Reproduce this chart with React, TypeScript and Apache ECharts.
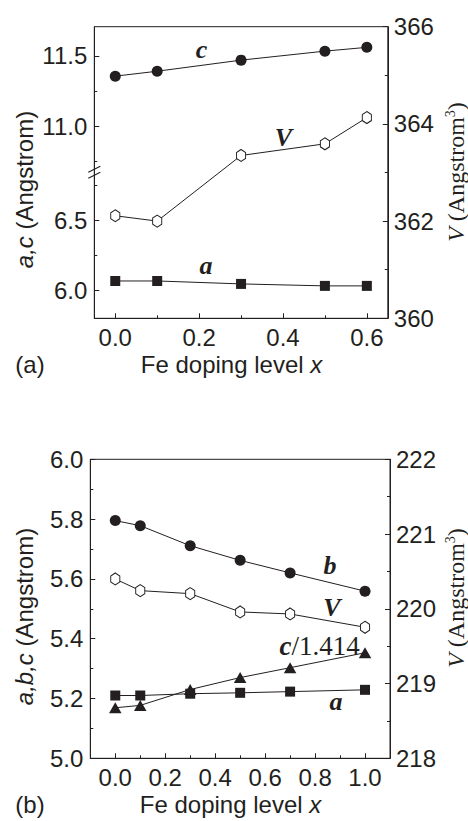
import React, { useEffect, useRef } from 'react';
import * as echarts from 'echarts';

// ---------- data: panel (a) ----------
const xA = [0, 0.1, 0.3, 0.5, 0.6];
const cA = [11.355, 11.39, 11.469, 11.533, 11.56];
const aA = [6.066, 6.066, 6.045, 6.031, 6.031];
const vA = [362.11, 362.0, 363.35, 363.59, 364.13];

// ---------- data: panel (b) ----------
const xB = [0, 0.1, 0.3, 0.5, 0.7, 1.0];
const bB = [5.795, 5.778, 5.711, 5.662, 5.62, 5.559];
const vB = [220.399, 220.243, 220.203, 219.958, 219.931, 219.753];
const cB = [5.169, 5.177, 5.23, 5.27, 5.303, 5.353];
const aB = [5.21, 5.21, 5.216, 5.219, 5.223, 5.229];

// ---------- ticks ----------
const xTicksA = [0, 0.2, 0.4, 0.6];
const xMinorA = [0.1, 0.3, 0.5];
const yUpperTicksA = [11.0, 11.5];
const yUpperMinorA = [10.75, 11.25];
const yLowerTicksA = [6.0, 6.5];
const yLowerMinorA = [6.25, 6.75];
const xTicksB = [0, 0.2, 0.4, 0.6, 0.8, 1.0];
const xMinorB = [0.1, 0.3, 0.5, 0.7, 0.9];

const INK = '#231f20';
const SANS = '"Liberation Sans", Arial, Helvetica, sans-serif';
const SERIF = '"Liberation Serif", "Times New Roman", serif';
const HEX = 'path://M0,-10L8.66,-5L8.66,5L0,10L-8.66,5L-8.66,-5Z';

const zip = (xs: number[], ys: number[]) => xs.map((x, i) => [x, ys[i]]);
const f1 = (v: number) => v.toFixed(1);

const labelStyle = { color: INK, fontSize: 24, fontFamily: SANS };

function mainAxis(extra: any, ticks: number[] | null, fmt: (v: number) => string, margin: number) {
  const o: any = {
    type: 'value',
    splitLine: { show: false },
    axisLine: { show: true, onZero: false, lineStyle: { color: INK, width: 1 } },
    axisTick: { show: true, inside: true, length: 5, lineStyle: { color: INK, width: 1 } },
    axisLabel: { show: true, ...labelStyle, margin, formatter: fmt },
    ...extra,
  };
  if (ticks) {
    o.axisTick.customValues = ticks;
    o.axisLabel.customValues = ticks;
  }
  return o;
}

function minorAxis(extra: any, ticks: number[]) {
  return {
    type: 'value',
    splitLine: { show: false },
    axisLine: { show: false, onZero: false },
    axisTick: { show: true, inside: true, length: 3, customValues: ticks, lineStyle: { color: INK, width: 1 } },
    axisLabel: { show: false },
    ...extra,
  };
}

const lineSeries = (name: string, xi: number, yi: number, data: number[][], symbol: string, size: any, hollow = false) => ({
  name,
  type: 'line',
  xAxisIndex: xi,
  yAxisIndex: yi,
  data,
  symbol,
  symbolSize: size,
  symbolKeepAspect: true,
  showAllSymbol: true,
  silent: true,
  lineStyle: { color: INK, width: 1 },
  itemStyle: hollow ? { color: '#ffffff', borderColor: INK, borderWidth: 1, opacity: 1 } : { color: INK, borderWidth: 0 },
  emphasis: { disabled: true },
  z: 3,
});

// geometry
const AL = 94.3, AR = 387.8, AT = 26.7, AB = 318.3, ABRK = 172.5;
const BL = 90.3, BR = 390, BT = 459.3, BB = 758.3;

export default function App() {
  const ref = useRef<HTMLDivElement>(null);
  useEffect(() => {
    if (!ref.current) return;
    const chart = echarts.init(ref.current, undefined, { renderer: 'svg' });
    const txt = (x: number, y: number, text: string, style: any, rotation = 0) => ({
      type: 'text',
      x,
      y,
      rotation,
      silent: true,
      z: 10,
      style: { text, fill: INK, align: 'center', verticalAlign: 'middle', ...style },
    });
    const lbl = (x: number, y: number, t: string) =>
      txt(x, y, t, { fontFamily: SERIF, fontSize: 26, fontStyle: 'italic', fontWeight: 'bold' });
    const sansRich = {
      i: { fontFamily: SANS, fontSize: 24, fontStyle: 'italic', fill: INK },
      n: { fontFamily: SANS, fontSize: 24, fill: INK },
    };
    const serifRich = {
      i: { fontFamily: SERIF, fontSize: 24, fontStyle: 'italic', fill: INK },
      n: { fontFamily: SERIF, fontSize: 24, fill: INK },
      s: { fontFamily: SERIF, fontSize: 14, fill: INK, verticalAlign: 'top', padding: [0, 0, 12, 0] },
    };

    chart.setOption({
      animation: false,
      backgroundColor: '#ffffff',
      grid: [
        { left: AL, top: AT, width: AR - AL, height: ABRK - AT, outerBoundsMode: 'none' },
        { left: AL, top: ABRK, width: AR - AL, height: AB - ABRK, outerBoundsMode: 'none' },
        { left: AL, top: AT, width: AR - AL, height: AB - AT, show: true, borderColor: INK, borderWidth: 1, backgroundColor: 'transparent', outerBoundsMode: 'none' },
        { left: BL, top: BT, width: BR - BL, height: BB - BT, show: true, borderColor: INK, borderWidth: 1, backgroundColor: 'transparent', outerBoundsMode: 'none' },
      ],
      xAxis: [
        { type: 'value', gridIndex: 0, min: -0.05, max: 0.65, show: false },
        { type: 'value', gridIndex: 1, min: -0.05, max: 0.65, show: false },
        mainAxis({ gridIndex: 2, min: -0.05, max: 0.65, position: 'bottom' }, xTicksA, f1, 7),
        minorAxis({ gridIndex: 2, min: -0.05, max: 0.65, position: 'bottom' }, xMinorA),
        mainAxis({ gridIndex: 3, min: -0.1, max: 1.1, position: 'bottom' }, xTicksB, f1, 7),
        minorAxis({ gridIndex: 3, min: -0.1, max: 1.1, position: 'bottom' }, xMinorB),
      ],
      yAxis: [
        mainAxis({ gridIndex: 0, min: 10.669, max: 11.707, position: 'left' }, yUpperTicksA, f1, 7),
        minorAxis({ gridIndex: 0, min: 10.669, max: 11.707, position: 'left' }, yUpperMinorA),
        mainAxis({ gridIndex: 1, min: 5.8, max: 6.839, position: 'left' }, yLowerTicksA, f1, 7),
        minorAxis({ gridIndex: 1, min: 5.8, max: 6.839, position: 'left' }, yLowerMinorA),
        mainAxis(
          { gridIndex: 2, min: 360, max: 366, interval: 2, position: 'right', minorTick: { show: true, splitNumber: 2, length: 3, lineStyle: { color: INK, width: 1 } } },
          null,
          (v: number) => String(Math.round(v)),
          6,
        ),
        mainAxis(
          { gridIndex: 3, min: 5.0, max: 6.0, interval: 0.2, position: 'left', minorTick: { show: true, splitNumber: 2, length: 3, lineStyle: { color: INK, width: 1 } } },
          null,
          f1,
          7,
        ),
        mainAxis(
          { gridIndex: 3, min: 218, max: 222, interval: 1, position: 'right', minorTick: { show: true, splitNumber: 2, length: 3, lineStyle: { color: INK, width: 1 } } },
          null,
          (v: number) => String(Math.round(v)),
          6,
        ),
      ],
      series: [
        lineSeries('c', 0, 0, zip(xA, cA), 'circle', 11),
        lineSeries('a', 1, 2, zip(xA, aA), 'rect', 10),
        lineSeries('V', 2, 4, zip(xA, vA), HEX, [10.5, 12], true),
        lineSeries('b', 4, 5, zip(xB, bB), 'circle', 11),
        lineSeries('V', 4, 6, zip(xB, vB), HEX, [10.5, 12], true),
        lineSeries('c/1.414', 4, 5, zip(xB, cB), 'triangle', [12.5, 11]),
        lineSeries('a', 4, 5, zip(xB, aB), 'rect', 10),
      ],
      graphic: [
        // axis break marks
        { type: 'line', silent: true, z: 10, shape: { x1: 88.3, y1: 172.3, x2: 100.3, y2: 166.3 }, style: { stroke: INK, lineWidth: 1.2 } },
        { type: 'line', silent: true, z: 10, shape: { x1: 88.3, y1: 178.3, x2: 100.3, y2: 172.3 }, style: { stroke: INK, lineWidth: 1.2 } },
        // panel tags
        txt(30, 364.7, '(a)', { fontFamily: SANS, fontSize: 24 }),
        txt(30, 804, '(b)', { fontFamily: SANS, fontSize: 24 }),
        // x axis titles
        txt(231.5, 364.7, '{n|Fe doping level }{i|x}', { rich: sansRich }),
        txt(230.5, 804, '{n|Fe doping level }{i|x}', { rich: sansRich }),
        // left axis titles
        txt(24.7, 189.5, '{i|a,c}{n| (Angstrom)}', { rich: sansRich }, Math.PI / 2),
        txt(24.7, 616.5, '{i|a,b,c}{n| (Angstrom)}', { rich: sansRich }, Math.PI / 2),
        // right axis titles
        txt(456, 172, '{i|V}{n| (Angstrom}{s|3}{n|)}', { rich: serifRich }, Math.PI / 2),
        txt(456, 598, '{i|V}{n| (Angstrom}{s|3}{n|)}', { rich: serifRich }, Math.PI / 2),
        // series labels panel (a)
        lbl(201.5, 49.5, 'c'),
        lbl(283.5, 137.9, 'V'),
        lbl(206, 265, 'a'),
        // series labels panel (b)
        lbl(330, 565, 'b'),
        lbl(332, 607, 'V'),
        txt(319.7, 646, '{bi|c}{r|/1.414}', {
          rich: {
            bi: { fontFamily: SERIF, fontSize: 27, fontStyle: 'italic', fontWeight: 'bold', fill: INK },
            r: { fontFamily: SERIF, fontSize: 27, fill: INK },
          },
        }),
        lbl(336, 701, 'a'),
      ],
    });
    return () => chart.dispose();
  }, []);
  return (
    <div
      ref={ref}
      style={{ position: 'absolute', left: 0, top: 0, width: 468, height: 821, background: '#fff' }}
    />
  );
}
